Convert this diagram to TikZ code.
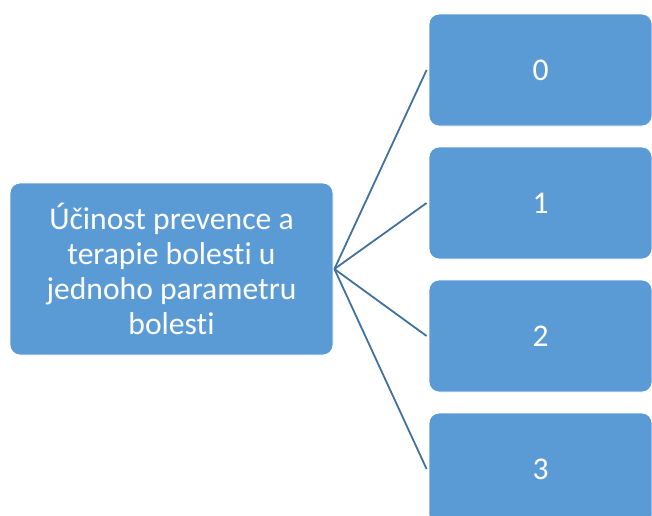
\documentclass[tikz,border=0pt]{standalone}
\usepackage{fontspec}
\setmainfont{Carlito}[RawFeature={-liga;-clig;-dlig;-calt;-rlig}]
\newcommand{\nolig}{\kern0pt}
\definecolor{boxfill}{HTML}{5B9BD5}
\definecolor{linecol}{HTML}{41719C}
\begin{document}
\begin{tikzpicture}[x=1pt,y=-1pt,
  blk/.style={rectangle, rounded corners=10pt, fill=boxfill, draw=white, line width=0.8pt,
    text=white, align=center, inner sep=0pt,
    font=\fontsize{31.6}{35}\selectfont},
  conn/.style={draw=linecol, line width=1.8pt}]
\useasboundingbox (0,0) rectangle (652,515);
\node[blk, minimum width=323pt, minimum height=172pt] (L) at (171.5,269) {Účinost prevence a\\terapie bolest\nolig i u\\jednoho parametru\\bolest\nolig i};
\node[blk, minimum width=223pt, minimum height=112pt] (B0) at (540.5,70) {0};
\node[blk, minimum width=223pt, minimum height=112pt] (B1) at (540.5,203) {1};
\node[blk, minimum width=223pt, minimum height=112pt] (B2) at (540.5,336) {2};
\node[blk, minimum width=223pt, minimum height=112pt] (B3) at (540.5,469) {3};
\foreach \b in {B0,B1,B2,B3}
  \draw[conn] ([xshift=1pt]L.east) -- ([xshift=-2pt]\b.west);
\end{tikzpicture}
\end{document}
